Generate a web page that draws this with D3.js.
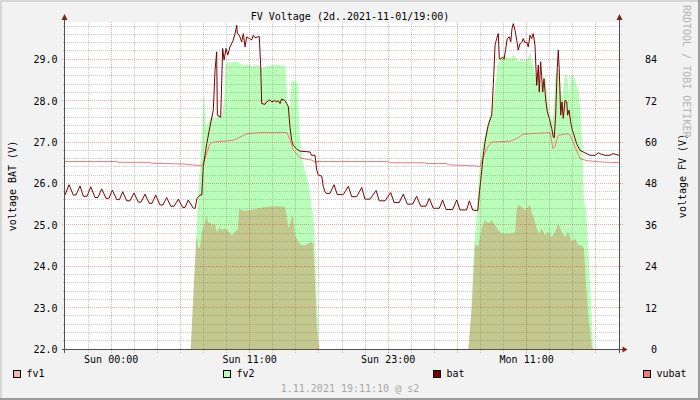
<!DOCTYPE html>
<html>
<head>
<meta charset="utf-8">
<script src="https://cdn.jsdelivr.net/npm/d3@7/dist/d3.min.js"></script>
<style>
  body { margin: 0; background: #f2f2f2; }
  svg { display: block; }
  text { font-family: "DejaVu Sans Mono", monospace; font-size: 10px; fill: #000; }
</style>
</head>
<body>
<svg id="chart" width="700" height="400"></svg>
<script>
// hours since Sat 30.10.2021 20:00 (CEST), 48 h window
const batTicks = [22, 23, 24, 25, 26, 27, 28, 29];
const fvTicks = [0, 12, 24, 36, 48, 60, 72, 84];
const timeTicks = [4, 16, 28, 40];
const timeLabels = ["Sun 00:00", "Sun 11:00", "Sun 23:00", "Mon 11:00"];
const seriesNames = ["fv1", "fv2", "bat", "vubat"];
const seriesColors = ["#f4b4b4", "#b9ffb9", "#7a0000", "#f07a7a"];

// [hour, volts] battery voltage
const bat = [
  [0, 25.72], [0.35, 25.97], [0.72, 25.72], [0.95, 25.72], [1.30, 25.94], [1.59, 25.69],
  [1.91, 25.69], [2.23, 25.92], [2.60, 25.66], [2.86, 25.66], [3.18, 25.87], [3.55, 25.64],
  [3.81, 25.64], [4.10, 25.84], [4.48, 25.61], [4.72, 25.61], [5.00, 25.80], [5.35, 25.58],
  [5.63, 25.58], [5.98, 25.77], [6.35, 25.55], [6.59, 25.55], [6.93, 25.74], [7.30, 25.52],
  [7.54, 25.52], [7.86, 25.72], [8.23, 25.48], [8.49, 25.48], [8.81, 25.66], [9.16, 25.45],
  [9.45, 25.45], [9.82, 25.62], [10.20, 25.42], [10.40, 25.42], [10.68, 25.60], [11.12, 25.40],
  [11.27, 25.40], [11.44, 25.64], [11.70, 25.72], [11.85, 25.72],
  [11.98, 26.40], [12.28, 26.96], [12.56, 27.37], [12.85, 27.77], [13.00, 28.73], [13.14, 29.18],
  [13.20, 27.65], [13.49, 27.60], [13.58, 28.49], [13.66, 29.26], [13.78, 28.98], [13.95, 29.26],
  [14.10, 29.10], [14.30, 29.30], [14.58, 29.46], [14.73, 29.62], [14.88, 29.82], [14.93, 29.62],
  [15.10, 29.58], [15.31, 29.42], [15.45, 29.62], [15.60, 29.30], [15.74, 29.54], [15.97, 29.50],
  [16.18, 29.47], [16.31, 29.58], [16.46, 29.52], [16.83, 29.55], [16.96, 28.81], [17.04, 27.93],
  [17.33, 27.91], [17.47, 27.97], [17.76, 28.02], [17.91, 27.97], [18.19, 28.00], [18.34, 27.97],
  [18.48, 28.00], [18.63, 27.93], [18.77, 28.04], [19.06, 28.00], [19.21, 27.93], [19.35, 27.85],
  [19.49, 27.37], [19.64, 27.04], [19.78, 26.92], [20.07, 26.83], [20.36, 26.78], [21.23, 26.76],
  [21.37, 26.68], [21.66, 26.68], [21.81, 26.32], [21.95, 26.20], [22.24, 26.18], [22.38, 25.92],
  [22.53, 25.80], [22.62, 25.76],
  [22.96, 25.76], [23.31, 25.97], [23.59, 25.73], [24.11, 25.73], [24.55, 25.93], [24.84, 25.68],
  [25.27, 25.68], [25.71, 25.90], [25.99, 25.62], [26.43, 25.62], [26.95, 25.83], [27.23, 25.58],
  [27.73, 25.58], [28.22, 25.78], [28.51, 25.54], [28.96, 25.54], [29.31, 25.74], [29.66, 25.50],
  [30.12, 25.50], [30.47, 25.69], [30.82, 25.45], [31.28, 25.45], [31.56, 25.64], [31.91, 25.40],
  [32.43, 25.40], [32.72, 25.60], [33.01, 25.37], [33.59, 25.37], [33.94, 25.60], [34.22, 25.36],
  [34.80, 25.36], [35.03, 25.58], [35.32, 25.36], [35.76, 25.34],
  [35.90, 25.76], [36.10, 26.28], [36.24, 26.68], [36.39, 27.00], [36.67, 27.41], [36.97, 27.65],
  [37.11, 28.37], [37.26, 29.34], [37.40, 29.50], [37.54, 29.62], [37.63, 29.01], [37.75, 29.01],
  [37.92, 29.05], [38.04, 29.00], [38.21, 29.30], [38.32, 29.50], [38.50, 29.54], [38.62, 29.42],
  [38.73, 29.74], [38.84, 29.86], [38.99, 29.70], [39.14, 29.46], [39.27, 29.22], [39.42, 29.38],
  [39.57, 29.40], [39.71, 29.50], [39.85, 29.40], [40.00, 29.42], [40.14, 29.30], [40.29, 29.58],
  [40.43, 29.50], [40.57, 29.62], [40.72, 29.34], [40.87, 28.37], [41.01, 28.86], [41.09, 28.21],
  [41.21, 28.94], [41.39, 28.21], [41.50, 28.53], [41.67, 27.97], [41.79, 27.73], [41.96, 27.57],
  [42.17, 27.33], [42.31, 27.12], [42.39, 27.10], [42.51, 27.65], [42.65, 28.77], [42.74, 29.22],
  [42.83, 28.69], [42.95, 27.65], [43.06, 27.97], [43.17, 27.57], [43.32, 28.01], [43.47, 27.97],
  [43.55, 27.65], [43.67, 27.77], [43.81, 27.49], [43.95, 27.29], [44.10, 27.17], [44.33, 26.96],
  [44.62, 26.80], [45.05, 26.74], [45.49, 26.68], [45.92, 26.68], [46.21, 26.74], [46.50, 26.70],
  [46.79, 26.68], [47.22, 26.68], [47.48, 26.72], [48.00, 26.68]
];

// [hour, volts] vubat
const vubat = [
  [0, 26.53], [4.51, 26.53], [4.55, 26.51], [7.37, 26.51], [7.45, 26.49], [10.22, 26.47],
  [11.70, 26.43], [11.87, 26.43], [12.13, 26.60], [12.56, 26.95], [12.82, 27.00], [14.56, 27.04],
  [15.77, 27.20], [16.90, 27.23], [19.23, 27.23], [19.49, 27.06], [19.75, 26.82], [20.36, 26.62],
  [21.40, 26.56], [21.66, 26.52], [21.75, 26.53], [27.99, 26.53], [28.08, 26.50], [31.19, 26.50],
  [31.28, 26.48], [33.10, 26.48], [33.19, 26.45], [35.79, 26.42], [35.96, 26.40], [36.13, 26.55],
  [36.56, 26.85], [36.97, 27.00], [38.56, 27.02], [39.25, 27.10], [39.68, 27.19], [42.02, 27.23],
  [42.28, 26.84], [42.46, 26.90], [42.72, 27.16], [43.50, 27.20], [43.76, 27.17], [44.19, 26.88],
  [44.62, 26.60], [45.23, 26.55], [46.36, 26.52], [48.00, 26.50]
];

// [hour, volts] fv2 (right axis)
const fv2 = [
  [10.83, 0], [10.98, 0], [11.26, 21.4], [11.50, 42.7], [11.70, 53.3], [11.90, 64.9],
  [11.98, 72.6], [12.07, 73.1], [12.19, 63.9], [12.42, 65.8], [12.71, 67.8], [13.00, 66.5],
  [13.28, 67.8], [13.58, 67.5], [13.80, 72.6], [13.92, 82.8], [14.10, 83.2], [14.44, 83.0],
  [14.73, 83.4], [15.01, 83.2], [15.31, 82.5], [15.88, 82.4], [16.18, 82.1], [16.75, 82.4],
  [17.04, 81.3], [17.33, 81.8], [17.91, 82.3], [18.48, 82.3], [19.06, 82.1], [19.15, 79.4],
  [19.30, 70.7], [19.49, 70.5], [19.58, 77.4], [19.78, 77.9], [20.07, 77.5], [20.21, 76.5],
  [20.27, 64.9], [20.45, 58.1], [20.65, 53.3], [20.94, 50.4], [21.23, 45.6], [21.37, 40.8],
  [21.51, 38.8], [21.66, 30.0], [21.81, 15.0], [22.01, 0],
  [34.96, 0], [35.03, 0], [35.24, 14.7], [35.44, 30.1], [35.67, 38.8], [35.81, 46.6],
  [35.96, 54.3], [36.10, 58.1], [36.39, 62.0], [36.67, 65.8], [36.97, 68.7], [37.26, 75.5],
  [37.46, 82.3], [37.69, 84.2], [37.98, 85.2], [38.27, 84.7], [38.56, 84.2], [38.84, 85.2],
  [39.14, 84.2], [39.27, 83.2], [39.57, 84.2], [39.85, 83.2], [40.14, 84.7], [40.35, 86.1],
  [40.43, 83.2], [40.57, 82.3], [40.81, 78.4], [41.01, 79.9], [41.21, 77.9], [41.39, 75.5],
  [41.59, 80.0], [41.79, 73.6], [42.02, 67.8], [42.25, 65.8], [42.37, 70.7], [42.46, 78.4],
  [42.65, 81.3], [42.83, 79.9], [43.03, 72.6], [43.17, 75.5], [43.32, 79.9], [43.52, 79.0],
  [43.69, 73.6], [43.84, 79.4], [44.10, 79.0], [44.33, 76.5], [44.56, 73.6], [44.68, 67.8],
  [44.85, 56.2], [44.96, 42.7], [45.14, 41.0], [45.34, 29.2], [45.55, 14.7], [45.77, 0]
];

// [hour, volts] fv1 (right axis)
const fv1 = [
  [10.90, 0], [11.10, 14.7], [11.26, 25.0], [11.40, 33.0], [11.55, 29.2], [11.70, 29.5],
  [11.85, 34.0], [11.98, 35.0], [12.13, 36.9], [12.28, 38.8], [12.42, 36.4], [12.56, 36.8],
  [12.71, 35.9], [13.00, 36.4], [13.14, 34.0], [13.28, 34.6], [13.43, 35.5], [13.58, 34.4],
  [13.86, 35.0], [14.15, 34.2], [14.44, 33.0], [14.73, 34.0], [14.96, 34.6], [15.08, 40.6],
  [15.31, 40.4], [15.60, 40.0], [16.18, 40.4], [16.75, 40.8], [17.33, 41.2], [17.91, 41.4],
  [18.48, 41.4], [19.06, 41.2], [19.21, 38.8], [19.35, 35.0], [19.49, 36.0], [19.64, 38.8],
  [19.78, 38.0], [19.93, 33.0], [20.21, 31.1], [20.51, 30.1], [20.79, 30.1], [21.08, 30.6],
  [21.31, 31.1], [21.51, 30.5], [21.66, 20.0], [21.81, 6.5], [22.01, 0],
  [34.94, 0], [35.24, 11.8], [35.52, 30.1], [35.81, 30.1], [36.10, 35.0], [36.39, 37.4],
  [36.67, 36.4], [36.97, 37.4], [37.26, 35.9], [37.54, 34.5], [37.83, 33.5], [38.56, 33.5],
  [39.00, 33.8], [39.14, 40.8], [39.27, 41.9], [39.57, 41.2], [39.85, 40.3], [40.14, 41.2],
  [40.29, 41.9], [40.43, 39.8], [40.63, 37.9], [40.87, 35.0], [41.09, 33.5], [41.30, 35.0],
  [41.59, 33.0], [41.88, 34.0], [42.17, 32.5], [42.46, 34.0], [42.74, 36.4], [43.03, 34.0],
  [43.32, 32.5], [43.61, 34.0], [43.90, 31.1], [44.19, 32.0], [44.48, 30.1], [44.77, 30.1],
  [44.96, 29.2], [45.14, 19.5], [45.34, 9.8], [45.63, 1.0], [45.77, 0]
];

const width = 700, height = 400;
const margin = { top: 22, right: 81, bottom: 51, left: 65 };
const crisp = v => Math.floor(v) + 0.5;

const svg = d3.select("#chart");

const x = d3.scaleLinear().domain([0, 48]).range([margin.left, width - margin.right]);
const yL = d3.scaleLinear().domain([22, 29.9]).range([height - margin.bottom, margin.top]);
const yR = d3.scaleLinear().domain([0, 94.8]).range([height - margin.bottom, margin.top]);

const x0 = crisp(x(0) - 0.5), x1 = crisp(x(48)), yb = crisp(yL(22));

// background + 3d frame
svg.append("rect").attr("width", width).attr("height", height).attr("fill", "#f2f2f2");
svg.append("rect").attr("width", width).attr("height", 2).attr("fill", "#d6d6d6");
svg.append("rect").attr("width", 2).attr("height", height).attr("fill", "#d6d6d6");
svg.append("rect").attr("y", height - 2).attr("width", width).attr("height", 2).attr("fill", "#9c9c9c");
svg.append("rect").attr("x", width - 2).attr("width", 2).attr("height", height).attr("fill", "#9c9c9c");

// canvas
svg.append("rect")
  .attr("x", x0).attr("y", margin.top)
  .attr("width", x1 - x0).attr("height", yb - margin.top)
  .attr("fill", "#fff");

svg.append("defs").append("clipPath").attr("id", "clip")
  .append("rect")
  .attr("x", x0).attr("y", margin.top)
  .attr("width", x1 - x0).attr("height", yb - margin.top);

const plot = svg.append("g").attr("clip-path", "url(#clip)");

const area = d3.area()
  .x(d => x(d[0]))
  .y0(yR(0))
  .y1(d => yR(d[1]));

plot.append("path").datum(fv2).attr("d", area).attr("fill", "#b9ffb9");
plot.append("path").datum(fv1).attr("d", area).attr("fill", "#c3c98e");

// grid
const grid = svg.append("g").attr("stroke-width", 1).attr("stroke-dasharray", "1,1")
  .attr("shape-rendering", "crispEdges");

const hMinor = d3.range(1, 40).filter(i => i % 5 !== 0).map(i => 22 + i * 0.2);
const hMajor = batTicks.filter(v => v > 22);
const vAll = d3.range(2, 48, 2);
const vMajor = vAll.filter(h => (h - 4) % 6 === 0);
const vMinor = vAll.filter(h => (h - 4) % 6 !== 0);
const minorColor = "rgba(100,100,100,0.32)", majorColor = "rgba(205,40,40,0.4)";

grid.selectAll(".hmin").data(hMinor).enter().append("line")
  .attr("x1", x0 - 2).attr("x2", x1 + 2)
  .attr("y1", d => crisp(yL(d))).attr("y2", d => crisp(yL(d)))
  .attr("stroke", minorColor);
grid.selectAll(".vmin").data(vMinor).enter().append("line")
  .attr("x1", d => crisp(x(d))).attr("x2", d => crisp(x(d)))
  .attr("y1", margin.top).attr("y2", yb + 3)
  .attr("stroke", minorColor);
grid.selectAll(".hmaj").data(hMajor).enter().append("line")
  .attr("x1", x0 - 3).attr("x2", x1 + 3)
  .attr("y1", d => crisp(yL(d))).attr("y2", d => crisp(yL(d)))
  .attr("stroke", majorColor);
grid.selectAll(".vmaj").data(vMajor).enter().append("line")
  .attr("x1", d => crisp(x(d))).attr("x2", d => crisp(x(d)))
  .attr("y1", margin.top).attr("y2", yb + 4)
  .attr("stroke", majorColor);

// lines
const line = d3.line().x(d => x(d[0])).y(d => yL(d[1]));

plot.append("path").datum(vubat).attr("d", line)
  .attr("fill", "none").attr("stroke", "#f07a7a").attr("stroke-width", 1);
plot.append("path").datum(bat).attr("d", line)
  .attr("fill", "none").attr("stroke", "#7a0000").attr("stroke-width", 1)
  .attr("stroke-linejoin", "round");

// axes
const axis = svg.append("g").attr("stroke", "#505050").attr("stroke-width", 1)
  .attr("shape-rendering", "crispEdges");
axis.append("line").attr("x1", x0).attr("x2", x0).attr("y1", yb + 3).attr("y2", 16);
axis.append("line").attr("x1", x1).attr("x2", x1).attr("y1", yb + 3).attr("y2", 16);
axis.append("line").attr("x1", x0 - 3).attr("x2", x1 + 4).attr("y1", yb).attr("y2", yb);

const arrow = svg.append("g").attr("fill", "#7f1f1f");
arrow.append("path").attr("d", `M${x0 - 3},20 L${x0 + 3},20 L${x0},14 Z`);
arrow.append("path").attr("d", `M${x1 - 3},20 L${x1 + 3},20 L${x1},14 Z`);
arrow.append("path").attr("d", `M${x1 + 3},${yb - 3} L${x1 + 3},${yb + 3} L${x1 + 8},${yb} Z`);

// tick labels
svg.append("g").selectAll("text").data(batTicks).enter().append("text")
  .attr("x", 57.5).attr("y", d => yL(d) + 4)
  .attr("text-anchor", "end")
  .text(d => d.toFixed(1));

svg.append("g").selectAll("text").data(fvTicks).enter().append("text")
  .attr("x", 657).attr("y", d => yR(d) + 4)
  .attr("text-anchor", "end")
  .text(d => d);

svg.append("g").selectAll("text").data(timeTicks).enter().append("text")
  .attr("x", d => x(d)).attr("y", 362.5)
  .attr("text-anchor", "middle")
  .text((d, i) => timeLabels[i]);

// titles
svg.append("text").attr("x", 350).attr("y", 19.5).attr("text-anchor", "middle")
  .text("FV Voltage (2d..2021-11-01/19:00)");
svg.append("text").attr("transform", "translate(15.5,186) rotate(-90)")
  .attr("text-anchor", "middle").text("voltage BAT (V)");
svg.append("text").attr("transform", "translate(685.5,176) rotate(-90)")
  .attr("text-anchor", "middle").text("voltage FV (V)");
svg.append("text").attr("transform", "translate(683,5) rotate(90)")
  .style("fill", "#b4b4b4").text("RRDTOOL / TOBI OETIKER");

// legend
const leg = svg.append("g").selectAll("g").data(seriesNames).enter().append("g")
  .attr("transform", (d, i) => `translate(${13 + i * 210},0)`);
leg.append("rect").attr("x", 0.5).attr("y", 370.5).attr("width", 7).attr("height", 7)
  .attr("fill", (d, i) => seriesColors[i]).attr("stroke", "#000").attr("stroke-width", 1);
leg.append("text").attr("x", 13.5).attr("y", 377.3).text(d => d);

svg.append("text").attr("x", 350).attr("y", 391.5).attr("text-anchor", "middle")
  .style("fill", "#a8a8a8").text("1.11.2021 19:11:10 @ s2");
</script>
</body>
</html>
